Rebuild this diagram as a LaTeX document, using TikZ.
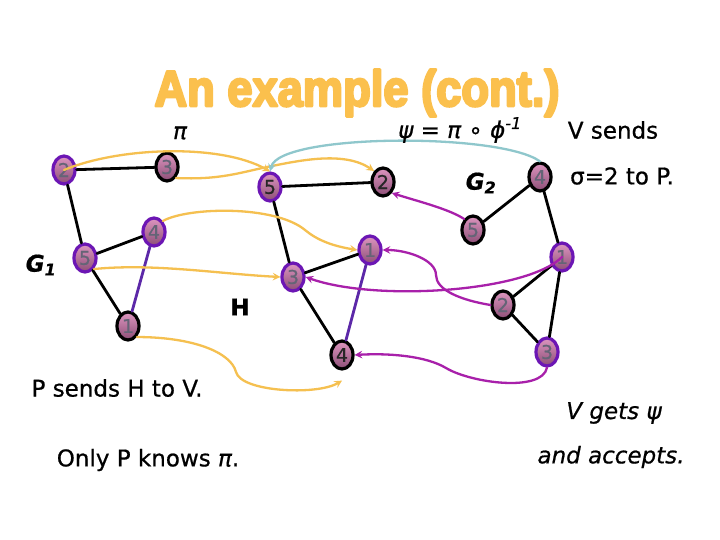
\documentclass[tikz,border=0pt]{standalone}
\usepackage{graphicx}
\usepackage{fontspec}
\setmainfont{DejaVu Sans}[FakeBold=0.7]
\newfontfamily\TitleFont{Liberation Sans Bold}[FakeBold=5]
\usetikzlibrary{shapes.geometric}
\definecolor{titleorange}{RGB}{251,192,77}
\definecolor{maporange}{RGB}{245,192,80}
\definecolor{mapmagenta}{RGB}{168,32,170}
\definecolor{mapteal}{RGB}{143,199,204}
\definecolor{ringcol}{RGB}{108,22,180}
\definecolor{edgecol}{RGB}{92,40,168}
\definecolor{nodetop}{RGB}{222,150,192}
\definecolor{nodebottom}{RGB}{140,78,118}
\definecolor{numgray}{RGB}{100,100,118}
\begin{document}
\begin{tikzpicture}[x=1pt, y=-1pt, line join=round, line cap=round, >=stealth,
	vtx/.style={ellipse, minimum width=22pt, minimum height=28pt, inner sep=0pt, top color=nodetop, bottom color=nodebottom, line width=3.2pt, font=\fontsize{19}{19}\selectfont, text=numgray},
	ringblack/.style={vtx, draw=black},
	ringpurple/.style={vtx, draw=ringcol},
	darknum/.style={text=black!85},
	edgeblack/.style={line width=2.8pt, black},
	edgepurple/.style={line width=2.8pt, edgecol},
	mapP/.style={->, line width=2.3pt, maporange},
	mapV/.style={->, line width=2.3pt, mapmagenta},
	mapT/.style={->, line width=2.3pt, mapteal},
	txt/.style={font=\fontsize{23}{27}\selectfont, inner sep=1pt}]
	\fill[white] (0,0) rectangle (720,540);
	\useasboundingbox (0,0) rectangle (720,540);
	\node[text=titleorange, inner sep=0pt] (title) at (357,93) {\resizebox*{405pt}{47pt}{\TitleFont An example (cont.)}};
	% G1
	\node[ringpurple] (a2) at (64,170) {2};
	\node[ringblack] (a3) at (167,167) {3};
	\node[ringpurple] (a5) at (85,258) {5};
	\node[ringpurple] (a4) at (154,232) {4};
	\node[ringblack] (a1) at (128,326) {1};
	\draw[edgeblack] (a2) -- (a3) (a2) -- (a5) (a5) -- (a4) (a5) -- (a1);
	\draw[edgepurple] (a4) -- (a1);
	% H
	\node[ringpurple, darknum] (h5) at (270,187) {5};
	\node[ringblack, darknum] (h2) at (383,182) {2};
	\node[ringpurple] (h1) at (370,250) {1};
	\node[ringpurple] (h3) at (293,277) {3};
	\node[ringblack, darknum] (h4) at (342,355) {4};
	\draw[edgeblack] (h5) -- (h2) (h5) -- (h3) (h3) -- (h1) (h3) -- (h4);
	\draw[edgepurple] (h1) -- (h4);
	% G2
	\node[ringblack] (b4) at (540,177) {4};
	\node[ringblack] (b5) at (473,230) {5};
	\node[ringpurple] (b1) at (562,257) {1};
	\node[ringblack] (b2) at (503,305) {2};
	\node[ringpurple] (b3) at (547,352) {3};
	\draw[edgeblack] (b4) -- (b5) (b4) -- (b1) (b1) -- (b2) (b1) -- (b3) (b2) -- (b3);
	% pi : G1 -> H
	\draw[mapP] (a2.center) .. controls +(55,-23) and +(-50,-28) .. (h5.north);
	\draw[mapP] (a3.south east) .. controls +(45,2) and +(-30,6) .. ([yshift=5pt]h5.north) .. controls +(30,-6) and +(-30,-20) .. (h2.north west);
	\draw[mapP] (a4.north east) .. controls +(25,-14) and +(-30,-25) .. (305,230) .. controls +(12,10) and +(-25,-4) .. (h1.west);
	\draw[mapP] (a5.south east) .. controls +(60,-6) and +(-60,-3) .. (h3.west);
	\draw[mapP] (a1.south east) .. controls +(55,0) and +(-5,-20) .. (236,372) .. controls +(5,20) and +(-25,15) .. ([yshift=-10pt]h4.south);
	% psi : G2 -> H
	\draw[mapV] (b5.north west) .. controls +(-15,-10) and +(25,8) .. (h2.south east);
	\draw[mapV] (b1.center) .. controls +(-35,35) and +(70,25) .. (h3.east);
	\draw[mapV] (b2.west) .. controls +(-30,-5) and +(0,15) .. (436,275) .. controls +(0,-15) and +(25,0) .. (h1.east);
	\draw[mapV] (b3.south) .. controls +(-5,25) and +(25,15) .. (446,368) .. controls +(-20,-12) and +(35,-2) .. (h4.east);
	\draw[mapT] (b4.north) .. controls +(-40,-29) and +(10,-38) .. (h5.north);
	% labels
	\node[txt] (lg1) at (41,265) {\bfseries\itshape G\textsubscript{1}};
	\node[txt] (lh) at (240,307) {\bfseries H};
	\node[txt] (lg2) at (481,183) {\bfseries\itshape G\textsubscript{2}};
	\node[txt] (pi) at (180,133) {\itshape π};
	\node[txt] (psi) at (460,130) {\itshape ψ = π ∘ ϕ\textsuperscript{-1}};
	\node[txt] (vsends) at (613,130) {V sends};
	\node[txt] (sigma) at (622,176) {σ=2 to P.};
	\node[txt] (psends) at (117,388) {P sends H to V.};
	\node[txt] (vgets) at (614,413) {\itshape V gets ψ};
	\node[txt] (accepts) at (611,457) {\itshape and accepts.};
	\node[txt] (only) at (148,460) {Only P knows {\itshape π}.};
\end{tikzpicture}
\end{document}
